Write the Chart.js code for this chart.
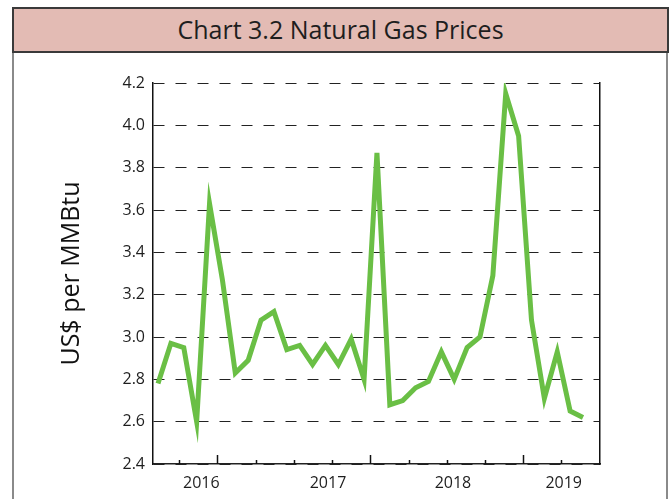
<!DOCTYPE html>
<html>
<head>
<meta charset="utf-8">
<script src="https://cdn.jsdelivr.net/npm/chart.js@4.4.1/dist/chart.umd.min.js"></script>
<style>
  html, body { margin: 0; padding: 0; background: #fff; }
  body { width: 669px; height: 499px; position: relative; overflow: hidden; font-family: "Open Sans", sans-serif; }
  #hdr { position: absolute; left: 12px; top: 7px; width: 657px; height: 46px; box-sizing: border-box;
         background: #e3bbb4; border: 2px solid #3a3a3a; color: #1e1e1e; font-size: 25px;
         text-align: center; line-height: 41px; }
  .side { position: absolute; top: 53px; width: 2px; height: 446px; background: #8a8a8a; }
  #cv { position: absolute; left: 0; top: 0; }
</style>
</head>
<body>
<div id="hdr">Chart 3.2 Natural Gas Prices</div>
<div class="side" style="left:12px"></div>
<div class="side" style="left:666px"></div>
<canvas id="cv" width="669" height="499"></canvas>
<script>
// Monthly prices, US$ per MMBtu (34 months)
const months = Array.from({length: 34}, (_, i) => i);
const prices = [2.78, 2.97, 2.95, 2.60, 3.63, 3.27, 2.83, 2.89, 3.08, 3.12,
                2.94, 2.96, 2.87, 2.96, 2.87, 2.99, 2.80, 3.87, 2.68, 2.70,
                2.76, 2.79, 2.93, 2.80, 2.95, 3.00, 3.29, 4.15, 3.95, 3.08,
                2.71, 2.93, 2.65, 2.62];
const yTicks = [2.4, 2.6, 2.8, 3.0, 3.2, 3.4, 3.6, 3.8, 4.0, 4.2];
const yearLabels = ['2016', '2017', '2018', '2019'];
const yearLabelAt = [3.36, 13.2, 22.9, 31.5];
const quarterTickAt = Array.from({length: 11}, (_, k) => 1.63 + 2.97 * k);
const majorTick = [1, 5, 9];

const innerTicks = {
  id: 'innerTicks',
  afterDraw(chart) {
    const xs = chart.scales.x, ctx = chart.ctx, bottom = chart.chartArea.bottom;
    ctx.save();
    ctx.strokeStyle = '#111';
    ctx.lineWidth = 1.5;
    quarterTickAt.forEach((v, k) => {
      const px = Math.round(xs.getPixelForValue(v)) + 0.5;
      const len = majorTick.includes(k) ? 9 : 4;
      ctx.beginPath();
      ctx.moveTo(px, bottom);
      ctx.lineTo(px, bottom - len);
      ctx.stroke();
    });
    ctx.restore();
  }
};

new Chart(document.getElementById('cv'), {
  type: 'line',
  data: {
    datasets: [{
      data: months.map((m, i) => ({x: m, y: prices[i]})),
      borderColor: '#6abf45',
      borderWidth: 5,
      pointRadius: 0,
      tension: 0,
      borderJoinStyle: 'miter',
      fill: false
    }]
  },
  options: {
    responsive: false,
    animation: false,
    layout: { padding: { top: 83, left: 0, right: 0, bottom: 0 } },
    plugins: { legend: { display: false }, tooltip: { enabled: false }, title: { display: false } },
    scales: {
      x: {
        type: 'linear', position: 'bottom', min: -0.39, max: 34.32,
        afterBuildTicks: s => { s.ticks = yearLabelAt.map(v => ({value: v})); },
        afterFit: s => { s.height = 35; },
        ticks: {
          callback: (v, i) => yearLabels[i],
          font: { family: 'Open Sans', size: 16 }, color: '#1e1e1e',
          padding: 10, maxRotation: 0, autoSkip: false
        },
        grid: { display: false, drawTicks: false },
        border: { display: true, color: '#222', width: 1.5 }
      },
      y: {
        type: 'linear', position: 'left', min: 2.4, max: 4.2,
        afterBuildTicks: s => { s.ticks = yTicks.map(v => ({value: v})); },
        afterFit: s => { s.width = 153; },
        ticks: {
          callback: v => Number(v).toFixed(1),
          font: { family: 'Open Sans', size: 16 }, color: '#1e1e1e', padding: 8
        },
        grid: { drawTicks: false, color: '#222', lineWidth: 1 },
        border: { display: true, color: '#111', width: 1.5, dash: [11, 11] },
        title: {
          display: true, text: 'US$ per MMBtu',
          font: { family: 'Open Sans', size: 25 }, color: '#111',
          padding: { top: 57, bottom: 0 }
        }
      },
      y2: {
        type: 'linear', position: 'right', min: 2.4, max: 4.2,
        afterFit: s => { s.width = 69; },
        ticks: { display: false },
        grid: { display: false, drawTicks: false },
        border: { display: true, color: '#111', width: 1.5 }
      }
    }
  },
  plugins: [innerTicks]
});
</script>
</body>
</html>
